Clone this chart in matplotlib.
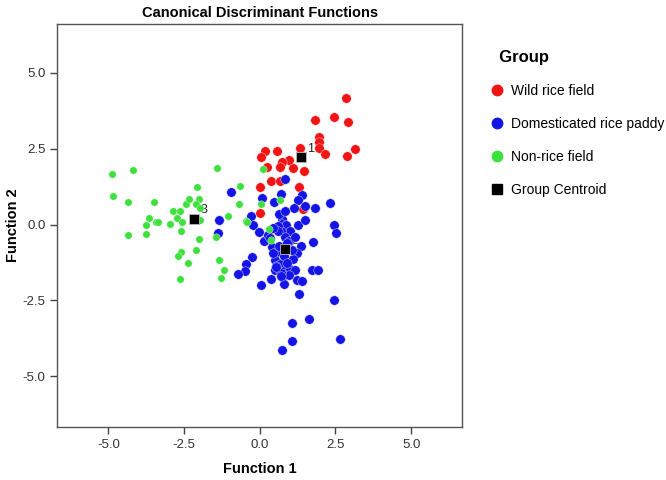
import numpy as np
import matplotlib
matplotlib.use("Agg")
import matplotlib.pyplot as plt
from matplotlib.lines import Line2D

plt.rcParams["font.family"] = ["Liberation Sans", "DejaVu Sans"]

# discriminant scores (Function 1, Function 2)
wild_x = [2.85, 1.84, 2.46, 2.93, 1.97, 1.95, 1.96, 1.33, 2.17, 3.16, 2.87,
          0.17, 0.03, 0.57, 0.98, 0.74, 0.66, 0.25, 1.09, 1.45, 0.36, 0.67,
          0.02, 1.30, 0.00, 1.42]
wild_y = [4.17, 3.44, 3.56, 3.37, 2.90, 2.72, 2.53, 2.53, 2.32, 2.48, 2.25,
          2.42, 2.23, 2.42, 2.12, 2.07, 1.89, 1.89, 1.86, 1.78, 1.45, 1.45,
          1.25, 1.24, 0.38, 0.53]

dom_x = [0.85, -0.94, 0.09, 0.47, 0.69, 1.38, 1.25, 1.49, 1.12, 1.84, 2.31,
         -0.30, -1.35, -1.39, -0.21, -0.04, 0.13, 0.28, 0.74, 0.72, 0.88,
         1.01, 0.69, 1.28, 1.49, 1.35, 1.23, 1.75, 2.44, 2.53, 0.41, 0.57,
         -0.24, -0.45, -0.49, -0.73, 0.52, 0.68, 0.51, 0.79, 1.01, 1.18,
         0.38, 0.74, 0.96, 1.23, 1.40, 0.79, 0.03, 1.29, 2.44, 1.73, 1.91,
         1.62, 1.07, 1.07, 0.74, 2.66, 0.60, 0.85, 0.95, 0.45, 0.62, 0.80,
         1.10, 0.55, 0.70, 0.90, 0.35, 0.62, 0.85, 1.05, 0.60, 0.45, 1.15,
         0.70, 0.90, 0.55]
dom_y = [1.50, 1.09, 0.88, 0.76, 1.02, 0.99, 0.80, 0.60, 0.56, 0.55, 0.70,
         0.28, 0.16, -0.28, 0.00, -0.26, -0.54, -0.35, 0.20, 0.03, 0.00,
         -0.22, -0.21, -0.02, 0.16, -0.71, -0.92, -0.59, 0.00, -0.28, -0.74,
         -0.90, -1.07, -1.30, -1.53, -1.64, -1.18, -1.29, -1.51, -1.54, -1.45,
         -1.49, -1.78, -1.73, -1.67, -1.84, -1.86, -1.95, -2.00, -2.28, -2.48,
         -1.49, -1.51, -3.12, -3.25, -3.83, -4.13, -3.78, -0.05, -0.40, -0.55,
         -0.95, -0.70, -1.05, -1.15, -1.35, -1.60, -1.25, -0.45, 0.35, 0.45,
         -0.85, -0.20, -0.10, -0.40, -1.70, -0.60, -1.40]

non_x = [-4.87, -4.20, -4.86, -4.34, -3.48, -2.07, -0.65, -0.69, -2.43, -2.35,
         -2.01, -2.12, -1.96, -2.87, -2.63, -3.66, -2.74, -3.74, -3.41, -3.35,
         -2.97, -2.56, -1.98, -2.61, -3.77, -4.34, -1.06, -1.44, -2.02, -2.10,
         -2.59, -2.71, -2.36, -1.35, -1.17, -1.27, -2.62, -0.47, -0.42, -1.41,
         0.10, 0.05, 0.67, 0.32, 0.37]
non_y = [1.66, 1.81, 0.94, 0.74, 0.74, 1.25, 1.26, 0.69, 0.69, 0.83,
         0.83, 0.69, 0.56, 0.45, 0.45, 0.23, 0.22, -0.02, 0.09, 0.09,
         0.03, 0.08, 0.14, -0.22, -0.30, -0.35, 0.30, -0.41, -0.48, -0.83,
         -0.90, -1.02, -1.25, -1.17, -1.50, -1.77, -1.78, 0.11, 0.09, 1.88,
         1.82, 0.68, 0.82, -0.15, -0.52]

cent_x = [1.35, 0.82, -2.18]
cent_y = [2.22, -0.81, 0.20]
cent_lab = ["1", "2", "3"]

group_names = ["Wild rice field", "Domesticated rice paddy", "Non-rice field"]
group_colors = ["#f21414", "#1414e6", "#3ee03e"]

fig = plt.figure(figsize=(6.66, 4.8), dpi=100)
ax = fig.add_axes([0.0863, 0.110, 0.6074, 0.841])

ax.scatter(wild_x, wild_y, s=46, c=group_colors[0], edgecolors="#fbe0e0",
           linewidths=0.3, zorder=2)
ax.scatter(dom_x, dom_y, s=46, c=group_colors[1], edgecolors="#e0e0fb",
           linewidths=0.3, zorder=2.1)
ax.scatter(non_x, non_y, s=28, c=group_colors[2], edgecolors="#e0f5e0",
           linewidths=0.3, zorder=2.2)
ax.scatter(cent_x, cent_y, s=55, marker="s", c="black", edgecolors="#bbbbbb",
           linewidths=0.6, zorder=3)
for cx, cy, lab in zip(cent_x, cent_y, cent_lab):
    ax.annotate(lab, (cx, cy), xytext=(5, 4), textcoords="offset points",
                fontsize=9, color="#222222", zorder=1.5)

ax.set_xlim(-6.68, 6.68)
ax.set_ylim(-6.68, 6.63)
ticks = [-5.0, -2.5, 0.0, 2.5, 5.0]
ax.set_xticks(ticks)
ax.set_yticks(ticks)
ax.set_xticklabels([f"{t:.1f}" for t in ticks])
ax.set_yticklabels([f"{t:.1f}" for t in ticks])
ax.tick_params(direction="out", length=5, width=1, color="#444444",
               labelsize=9.5, labelcolor="#333333")
for sp in ax.spines.values():
    sp.set_color("#555555")
    sp.set_linewidth(1.0)

ax.set_xlabel("Function 1", fontsize=10.5, fontweight="bold", labelpad=8)
ax.set_ylabel("Function 2", fontsize=10.5, fontweight="bold", labelpad=2)
ax.set_title("Canonical Discriminant Functions", fontsize=10.5,
             fontweight="bold", pad=5)

handles = [Line2D([], [], marker="o", ls="", color=c, markersize=7.5)
           for c in group_colors]
handles.append(Line2D([], [], marker="s", ls="", color="black", markersize=7))
labels = group_names + ["Group Centroid"]
leg = fig.legend(handles, labels, loc="upper left",
                 bbox_to_anchor=(0.728, 0.907), frameon=False,
                 fontsize=10, title="  Group",
                 title_fontproperties={"weight": "bold", "size": 12},
                 alignment="left", labelspacing=1.36, handletextpad=0.45,
                 handlelength=1.0, borderaxespad=0)

fig.savefig("out.png", dpi=100)
